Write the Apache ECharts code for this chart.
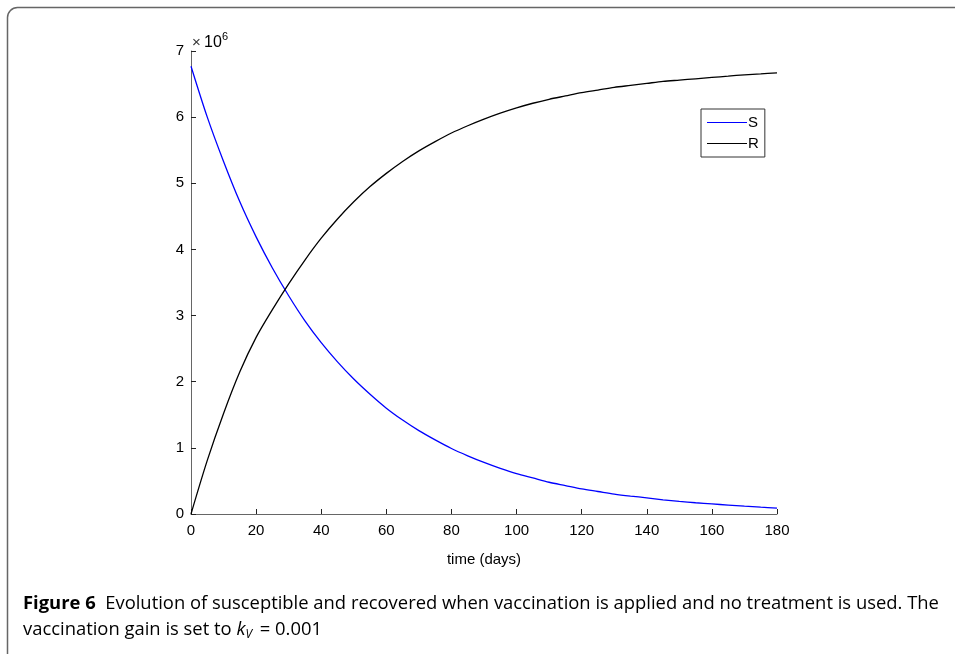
<!DOCTYPE html>
<html>
<head>
<meta charset="utf-8">
<script src="https://cdn.jsdelivr.net/npm/echarts@6/dist/echarts.min.js"></script>
<style>
  html, body { margin: 0; padding: 0; background: #fff; }
  #main { width: 955px; height: 654px; }
</style>
</head>
<body>
<div id="main"></div>
<script>
// time in days, every 5 days
const days = [0, 5, 10, 15, 20, 25, 30, 35, 40, 45, 50, 55, 60, 65, 70, 75, 80, 85, 90,
  95, 100, 105, 110, 115, 120, 125, 130, 135, 140, 145, 150, 155, 160, 165, 170, 175, 180]

// values, in millions (axis shows x10^6)
const susceptible = [6.77, 6.0, 5.33, 4.72, 4.19, 3.72, 3.3, 2.92, 2.59, 2.3, 2.04, 1.81, 1.6,
  1.42, 1.26, 1.12, 0.99, 0.88, 0.78, 0.69, 0.61, 0.545, 0.48, 0.43, 0.38, 0.34, 0.3, 0.27,
  0.245, 0.215, 0.19, 0.17, 0.152, 0.135, 0.118, 0.103, 0.09]
const recovered = [0, 0.81, 1.52, 2.15, 2.67, 3.09, 3.48, 3.84, 4.17, 4.46, 4.72, 4.95, 5.15,
  5.33, 5.49, 5.63, 5.76, 5.87, 5.97, 6.06, 6.14, 6.21, 6.27, 6.32, 6.37, 6.41, 6.45, 6.48,
  6.51, 6.54, 6.56, 6.58, 6.6, 6.62, 6.64, 6.655, 6.67]

const seriesNames = ['S', 'R']
const xLabel = 'time (days)'

const chart = echarts.init(document.getElementById('main'))

const toPairs = (vals) => days.map((d, i) => [d, vals[i]])

const axisFamily = 'Liberation Sans, Arial, sans-serif'
const axisFont = { fontFamily: axisFamily, fontSize: 15, color: '#000' }
const capFont = 'Open Sans, Noto Sans, sans-serif'

chart.setOption({
  animation: false,
  grid: { left: 191, right: 178, top: 51, bottom: 140 },
  legend: {
    orient: 'vertical',
    left: 701,
    top: 109,
    padding: [6, 6, 6, 6],
    itemGap: 6,
    itemWidth: 40,
    itemHeight: 14,
    borderColor: '#333',
    borderWidth: 1,
    backgroundColor: '#fff',
    icon: 'path://M0,0 L40,0 L40,1 L0,1 Z',
    textStyle: Object.assign({}, axisFont, { padding: [0, 0, 0, -4] }),
    data: seriesNames
  },
  xAxis: {
    type: 'value',
    min: 0,
    max: 180,
    interval: 20,
    name: xLabel,
    nameLocation: 'middle',
    nameGap: 38,
    nameTextStyle: axisFont,
    axisLine: { lineStyle: { color: '#666', width: 1 } },
    axisTick: { inside: true, length: 5, lineStyle: { color: '#222' } },
    axisLabel: Object.assign({ margin: 9 }, axisFont),
    splitLine: { show: false }
  },
  yAxis: {
    type: 'value',
    min: 0,
    max: 7,
    interval: 1,
    axisLine: { show: true, lineStyle: { color: '#666', width: 1 } },
    axisTick: { show: true, inside: true, length: 5, lineStyle: { color: '#222' } },
    axisLabel: Object.assign({ margin: 7 }, axisFont),
    splitLine: { show: false }
  },
  graphic: [
    {
      type: 'rect',
      shape: { x: 7.5, y: 7.5, width: 1000, height: 700, r: 10 },
      style: { fill: 'none', stroke: '#666', lineWidth: 1.5 },
      silent: true
    },
    {
      type: 'text',
      x: 192,
      y: 43,
      style: { text: '×', font: '15px ' + axisFamily, fill: '#333', verticalAlign: 'middle' }
    },
    {
      type: 'text',
      x: 204,
      y: 43,
      style: { text: '10', font: '16px ' + axisFamily, fill: '#000', verticalAlign: 'middle' }
    },
    {
      type: 'text',
      x: 222,
      y: 37,
      style: { text: '6', font: '11px ' + axisFamily, fill: '#000', verticalAlign: 'middle' }
    },
    {
      type: 'text',
      x: 23,
      y: 604,
      style: {
        text: '{b|Figure 6}{n|  Evolution of susceptible and recovered when vaccination is applied and no treatment is used. The}',
        verticalAlign: 'middle',
        rich: {
          b: { fontFamily: capFont, fontSize: 18.4, fontWeight: 'bold', color: '#111' },
          n: { fontFamily: capFont, fontSize: 18.4, color: '#222' }
        }
      }
    },
    {
      type: 'text',
      x: 23,
      y: 630,
      style: {
        text: '{n|vaccination gain is set to }{i|k}{sub|V}{n| = 0.001}',
        verticalAlign: 'middle',
        rich: {
          n: { fontFamily: capFont, fontSize: 18.4, color: '#222' },
          i: { fontFamily: capFont, fontSize: 18.4, fontStyle: 'italic', color: '#222' },
          sub: { fontFamily: capFont, fontSize: 12, fontStyle: 'italic', color: '#222', padding: [9, 3, 0, 0] }
        }
      }
    }
  ],
  series: [
    {
      name: seriesNames[0],
      type: 'line',
      data: toPairs(susceptible),
      smooth: 0.3,
      showSymbol: false,
      lineStyle: { color: '#0000ff', width: 1.3 },
      itemStyle: { color: '#0000ff' }
    },
    {
      name: seriesNames[1],
      type: 'line',
      data: toPairs(recovered),
      smooth: 0.3,
      showSymbol: false,
      lineStyle: { color: '#000', width: 1.3 },
      itemStyle: { color: '#000' }
    }
  ]
})
</script>
</body>
</html>
